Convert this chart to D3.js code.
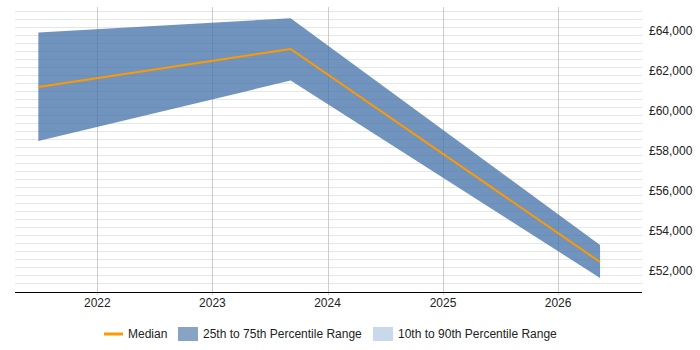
<!DOCTYPE html>
<html><head><meta charset="utf-8">
<script src="https://cdn.jsdelivr.net/npm/d3@7"></script>
<style>body{margin:0;background:#fff}svg{display:block;font-family:"Liberation Sans",Arial,sans-serif}</style>
</head><body><svg id="c" width="700" height="350"></svg>
<script>
const dates = ["2021-06-28", "2023-09-06", "2026-05-14"];
const p25 = [58500, 61520, 51650];
const median = [61200, 63100, 52450];
const p75 = [63920, 64640, 53300];
const yearTicks = [2022, 2023, 2024, 2025, 2026];
const yLabelTicks = [52000, 54000, 56000, 58000, 60000, 62000, 64000];
const legendItems = ["Median", "25th to 75th Percentile Range", "10th to 90th Percentile Range"];

const parse = d3.timeParse("%Y-%m-%d");
const data = dates.map((d, i) => ({date: parse(d), lo: p25[i], med: median[i], hi: p75[i]}));
const svg = d3.select("#c");
const x = d3.scaleTime().domain([new Date(2021, 3, 15), new Date(2026, 8, 24)]).range([15, 642]);
const y = d3.scaleLinear().domain([51000, 65200]).range([291, 7]);

// minor horizontal grid
const minor = d3.range(51400, 65201, 400);
svg.append("g").selectAll("line").data(minor).join("line")
  .attr("x1", 15).attr("x2", 642)
  .attr("y1", d => Math.round(y(d)) + 0.5).attr("y2", d => Math.round(y(d)) + 0.5)
  .attr("stroke", d => d % 2000 === 0 ? "#cfcfcf" : "#e6e6e6").attr("stroke-width", 1);

// vertical grid
svg.append("g").selectAll("line").data(yearTicks).join("line")
  .attr("x1", d => Math.round(x(new Date(d, 0, 1))) + 0.5).attr("x2", d => Math.round(x(new Date(d, 0, 1))) + 0.5)
  .attr("y1", 7).attr("y2", 295).attr("stroke", "#cccccc");

// band
svg.append("path").datum(data)
  .attr("d", d3.area().x(d => x(d.date)).y0(d => y(d.lo)).y1(d => y(d.hi)))
  .attr("fill", "rgb(66,112,168)").attr("fill-opacity", 0.75);

// median
svg.append("path").datum(data)
  .attr("d", d3.line().x(d => x(d.date)).y(d => y(d.med)))
  .attr("fill", "none").attr("stroke", "#ff9900").attr("stroke-width", 2);

// x axis line
svg.append("line").attr("x1", 15).attr("x2", 642).attr("y1", 292.5).attr("y2", 292.5).attr("stroke", "#000");

// x labels
svg.append("g").selectAll("text").data(yearTicks).join("text")
  .attr("x", d => x(new Date(d, 0, 1))).attr("y", 307).attr("text-anchor", "middle")
  .attr("font-size", 12).attr("fill", "#222").text(d => d);

// y labels
svg.append("g").selectAll("text").data(yLabelTicks).join("text")
  .attr("x", 649).attr("y", d => y(d) + 4).attr("font-size", 12).attr("fill", "#222")
  .text(d => "£" + d3.format(",")(d));

// legend
const lg = svg.append("g");
lg.append("line").attr("x1", 104).attr("x2", 123).attr("y1", 334).attr("y2", 334).attr("stroke", "#ff9900").attr("stroke-width", 3);
lg.append("text").attr("x", 128).attr("y", 338).attr("font-size", 12).attr("fill", "#222").text(legendItems[0]);
lg.append("rect").attr("x", 178).attr("y", 327).attr("width", 20).attr("height", 14).attr("fill", "#88a4c4");
lg.append("text").attr("x", 203).attr("y", 338).attr("font-size", 12).attr("fill", "#222").text(legendItems[1]);
lg.append("rect").attr("x", 373).attr("y", 327).attr("width", 20).attr("height", 14).attr("fill", "#c9d9ec");
lg.append("text").attr("x", 398).attr("y", 338).attr("font-size", 12).attr("fill", "#222").text(legendItems[2]);
</script></body></html>
